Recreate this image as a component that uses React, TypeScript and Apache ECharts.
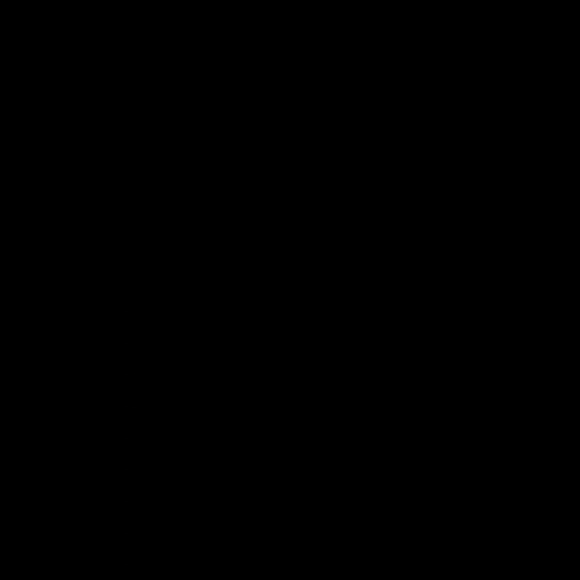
import React, { useEffect, useRef } from "react";
import * as echarts from "echarts";

// the reference is almost entirely black; only faint stripes show the layout
const columns = [
  "C01", "C02", "C03", "C04", "C05", "C06", "C07", "C08",
  "C09", "C10", "C11", "C12", "C13", "C14", "C15",
];
const rows = ["R1", "R2", "R3", "R4", "R5", "R6", "R7", "R8", "R9"];

const row1 = [0.2, 0.4, 0.1, 0.3, 0.5, 0.2, 0.6, 0.3, 0.1, 0.4, 0.2, 0.5, 0.3, 0.2, 0.4];
const row2 = [0.3, 0.1, 0.5, 0.2, 0.4, 0.6, 0.2, 0.1, 0.3, 0.5, 0.4, 0.2, 0.6, 0.3, 0.1];
const row3 = [0.5, 0.3, 0.2, 0.6, 0.1, 0.4, 0.3, 0.5, 0.2, 0.1, 0.6, 0.4, 0.2, 0.5, 0.3];
const row4 = [0.1, 0.6, 0.4, 0.2, 0.3, 0.5, 0.1, 0.4, 0.6, 0.2, 0.3, 0.1, 0.5, 0.4, 0.2];
const row5 = [0.4, 0.2, 0.3, 0.5, 0.6, 0.1, 0.4, 0.2, 0.5, 0.3, 0.1, 0.6, 0.4, 0.2, 0.5];
const row6 = [0.6, 0.5, 0.1, 0.4, 0.2, 0.3, 0.5, 0.6, 0.4, 0.1, 0.2, 0.3, 0.1, 0.6, 0.4];
const row7 = [0.2, 0.3, 0.6, 0.1, 0.5, 0.4, 0.2, 0.3, 0.1, 0.6, 0.5, 0.2, 0.3, 0.1, 0.6];
const row8 = [0.3, 0.4, 0.2, 0.5, 0.1, 0.6, 0.3, 0.2, 0.4, 0.5, 0.1, 0.4, 0.6, 0.3, 0.2];
const row9 = [0.5, 0.1, 0.4, 0.3, 0.6, 0.2, 0.5, 0.4, 0.3, 0.2, 0.6, 0.1, 0.2, 0.4, 0.5];
const values = [row1, row2, row3, row4, row5, row6, row7, row8, row9];

const App: React.FC = () => {
  const chartRef = useRef<HTMLDivElement>(null);

  useEffect(() => {
    if (!chartRef.current) return;
    const chart = echarts.init(chartRef.current, null, { renderer: "svg" });

    const cells: number[][] = [];
    values.forEach((r, y) => r.forEach((v, x) => cells.push([x, y, v])));

    chart.setOption({
      animation: false,
      backgroundColor: "#000000",
      grid: { left: 145, right: 0, top: 295, bottom: 0 },
      xAxis: {
        type: "category",
        data: columns,
        position: "top",
        axisLine: { show: false },
        axisTick: { show: false },
        axisLabel: { rotate: 90, color: "#010101", fontSize: 11 },
        splitLine: { show: false },
      },
      yAxis: {
        type: "category",
        data: rows,
        inverse: true,
        axisLine: { show: false },
        axisTick: { show: false },
        axisLabel: { color: "#010101", fontSize: 11 },
      },
      visualMap: {
        show: false,
        min: 0,
        max: 1,
        inRange: { color: ["#000000", "#000000"] },
      },
      series: [
        {
          type: "heatmap",
          data: cells,
          label: { show: true, color: "#010101", fontSize: 9 },
          itemStyle: { borderColor: "#000000", borderWidth: 1 },
        },
      ],
    });

    return () => {
      chart.dispose();
    };
  }, []);

  return (
    <div
      ref={chartRef}
      style={{ position: "fixed", left: 0, top: 0, width: "580px", height: "580px" }}
    />
  );
};

export default App;
